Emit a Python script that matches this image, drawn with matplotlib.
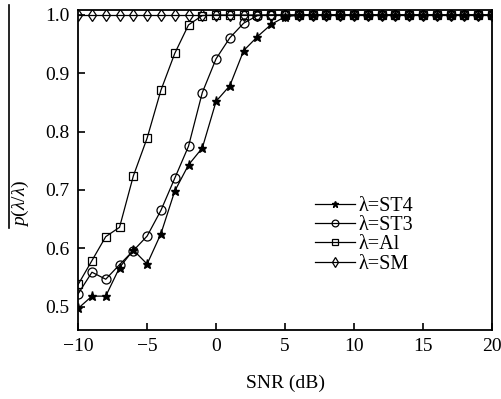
import matplotlib
matplotlib.use("Agg")
import matplotlib.pyplot as plt
from matplotlib.lines import Line2D

plt.rcParams['font.family'] = ['Liberation Serif', 'DejaVu Serif']
plt.rcParams['mathtext.fontset'] = 'custom'
plt.rcParams['mathtext.rm'] = 'Liberation Serif'
plt.rcParams['mathtext.it'] = 'Liberation Serif:italic'

snr = list(range(-10, 21))
st4 = [0.497, 0.518, 0.518, 0.567, 0.597, 0.573, 0.625, 0.698, 0.743, 0.772, 0.852, 0.879, 0.939, 0.963, 0.984, 0.997] + [1.0] * 15
st3 = [0.522, 0.559, 0.547, 0.572, 0.596, 0.621, 0.665, 0.720, 0.775, 0.867, 0.925, 0.961, 0.986, 0.999] + [1.0] * 17
al = [0.538, 0.579, 0.620, 0.636, 0.724, 0.789, 0.871, 0.934, 0.983, 0.999] + [1.0] * 21
sm = [1.0] * 31
labels = ['λ=ST4', 'λ=ST3', 'λ=Al', 'λ=SM']

fig = plt.figure(figsize=(5.01, 3.99), dpi=100)
ax = fig.add_axes([0.156, 0.173, 0.826, 0.802])

kw = dict(color='black', lw=0.9)
ax.plot(snr, st4, marker='*', ms=6.5, mfc='black', mec='black', label=labels[0], **kw)
ax.plot(snr, st3, marker='o', ms=6.5, mfc='none', mec='black', mew=0.9, label=labels[1], **kw)
ax.plot(snr, al, marker='s', ms=5.5, mfc='none', mec='black', mew=0.9, label=labels[2], **kw)
ax.plot(snr, sm, marker='d', ms=6.5, mfc='none', mec='black', mew=0.9, label=labels[3], **kw)

ax.set_xlim(-10, 20)
ax.set_ylim(0.460, 1.0086)
ax.set_xticks([-10, -5, 0, 5, 10, 15, 20])
ax.set_xticklabels(['\u221210', '\u22125', '0', '5', '10', '15', '20'])
ax.set_yticks([0.5, 0.6, 0.7, 0.8, 0.9, 1.0])
ax.set_yticklabels(['0.5', '0.6', '0.7', '0.8', '0.9', '1.0'])
ax.tick_params(direction='in', length=5, width=1.2, labelsize=14, pad=6)
for s in ax.spines.values():
    s.set_linewidth(1.3)

ax.set_xlabel('SNR (dB)', fontsize=14, labelpad=14)

fig.text(0.04, 0.49, r'$p(\lambda/\lambda)$', rotation=90, fontsize=14, ha='center', va='center')
fig.add_artist(Line2D([0.018, 0.018], [1 - 228/399, 1 - 5/399], transform=fig.transFigure, color='black', lw=1.2))

leg = ax.legend(loc='upper left', bbox_to_anchor=(0.572, 0.415), frameon=False, fontsize=14.5,
                handlelength=2.0, handletextpad=0.15, labelspacing=0.0, borderaxespad=0, borderpad=0,
                markerscale=0.75)

fig.savefig('out.png', dpi=100)
